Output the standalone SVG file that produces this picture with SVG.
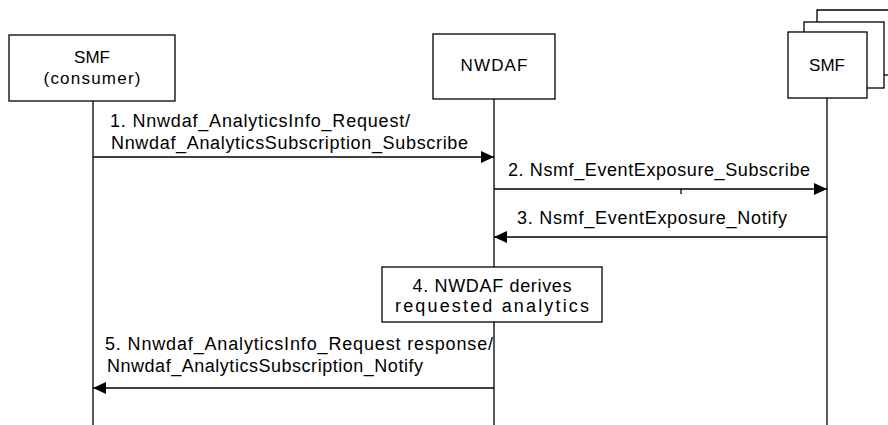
<svg xmlns="http://www.w3.org/2000/svg" width="888" height="425" viewBox="0 0 888 425">
<style>
.box{fill:#fff;stroke:#000;stroke-width:1.3}
.ln{stroke:#000;stroke-width:1.3;fill:none}
text{font-family:"Liberation Sans",Arial,sans-serif;font-size:18px;fill:#000}
.h{font-size:17px}
.c{text-anchor:middle}
</style>
<defs>
<marker id="ah" markerUnits="userSpaceOnUse" markerWidth="14" markerHeight="12" refX="13" refY="6" orient="auto">
<path d="M0,0 L13,6 L0,12 z" fill="#000"/>
</marker>
</defs>
<g id="lifelines">
<line class="ln" x1="93" y1="100" x2="93" y2="425"/>
<line class="ln" x1="494" y1="99" x2="494" y2="425"/>
<line class="ln" x1="827" y1="98" x2="827" y2="425"/>
</g>
<g id="smf-consumer">
<rect class="box" x="9" y="35" width="166" height="66"/>
<text class="c h" x="92" y="63">SMF</text>
<text class="c h" x="92" y="84" textLength="97" lengthAdjust="spacing">(consumer)</text>
</g>
<g id="nwdaf">
<rect class="box" x="433" y="34" width="122" height="65"/>
<text class="c h" x="494" y="71" textLength="67" lengthAdjust="spacing">NWDAF</text>
</g>
<g id="smf">
<path class="ln" d="M817,75 V10 H888"/>
<path class="ln" d="M884,75 H888"/>
<rect class="box" x="804" y="22" width="80" height="66"/>
<rect class="box" x="788" y="32" width="79" height="66"/>
<text class="c h" x="827" y="71">SMF</text>
</g>
<g id="connectors">
<line class="ln" x1="93" y1="157" x2="494" y2="157" marker-end="url(#ah)"/>
<line class="ln" x1="494" y1="189" x2="827" y2="189" marker-end="url(#ah)"/>
<line class="ln" x1="681" y1="189" x2="681" y2="194"/>
<line class="ln" x1="827" y1="237" x2="494" y2="237" marker-end="url(#ah)"/>
<line class="ln" x1="494" y1="388" x2="93" y2="388" marker-end="url(#ah)"/>
</g>
<g id="labels">
<text x="110" y="127" textLength="300" lengthAdjust="spacing">1. Nnwdaf_AnalyticsInfo_Request/</text>
<text x="111" y="149" textLength="357" lengthAdjust="spacing">Nnwdaf_AnalyticsSubscription_Subscribe</text>
<text x="508" y="176" textLength="302" lengthAdjust="spacing">2. Nsmf_EventExposure_Subscribe</text>
<text x="517" y="224" textLength="270" lengthAdjust="spacing">3. Nsmf_EventExposure_Notify</text>
<text x="105" y="350" textLength="388" lengthAdjust="spacing">5. Nnwdaf_AnalyticsInfo_Request response/</text>
<text x="107" y="372" textLength="316" lengthAdjust="spacing">Nnwdaf_AnalyticsSubscription_Notify</text>
</g>
<g id="step4">
<rect class="box" x="382" y="267" width="220" height="55"/>
<text class="c" x="492" y="292" textLength="159" lengthAdjust="spacing">4. NWDAF derives</text>
<text class="c" x="492" y="312" textLength="194" lengthAdjust="spacing">requested analytics</text>
</g>
</svg>
